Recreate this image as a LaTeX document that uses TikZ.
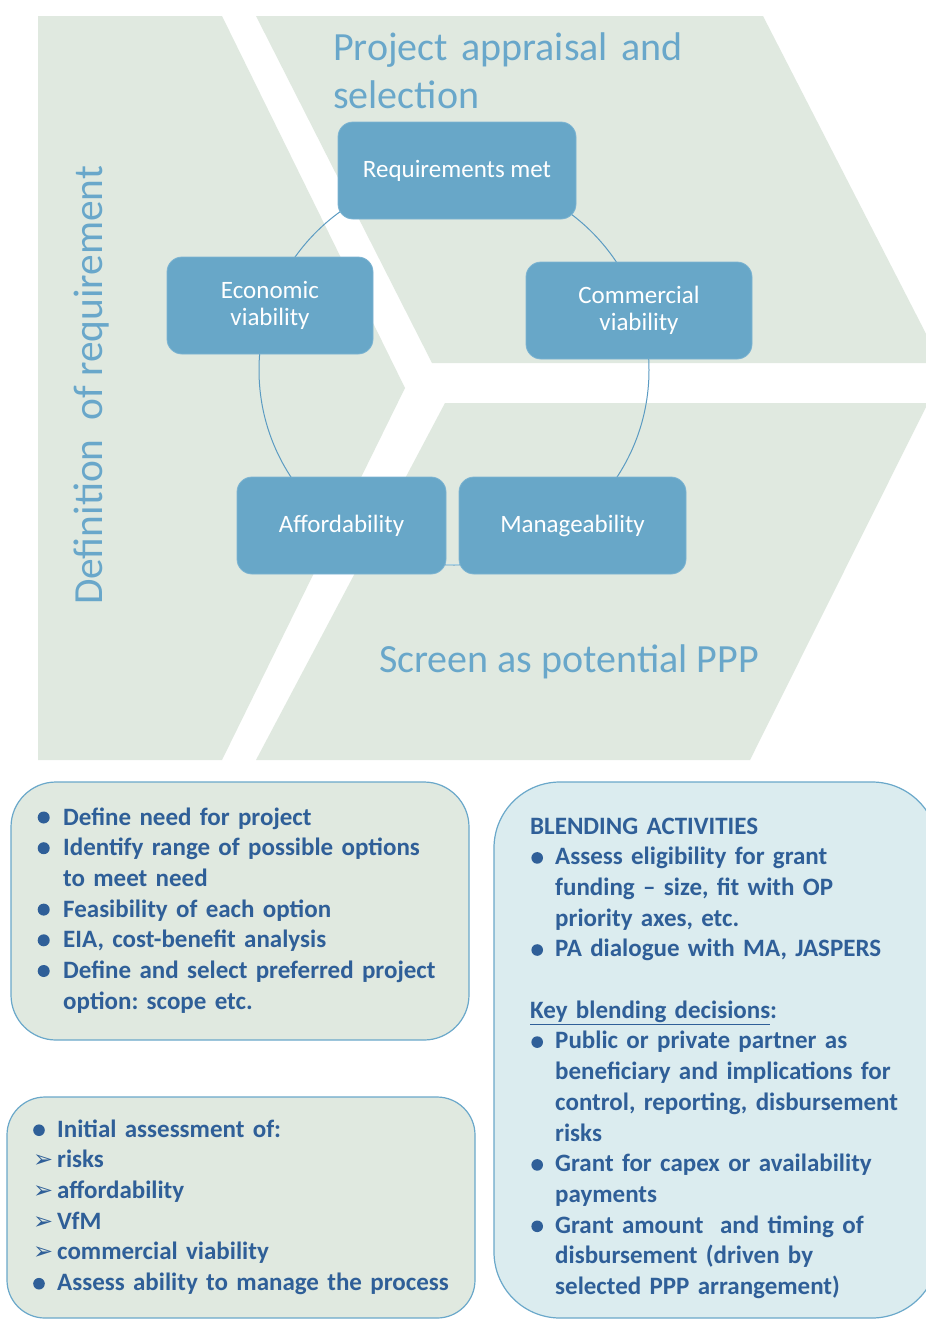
\documentclass[tikz,border=0pt]{standalone}
\usepackage{fontspec}
\setmainfont{Carlito}
\newfontfamily\djv{DejaVu Sans}
\definecolor{bggreen}{HTML}{E0E9E0}
\definecolor{boxblue}{HTML}{DBECEF}
\definecolor{nodeblue}{HTML}{68A7C8}
\definecolor{nodeedge}{HTML}{7DB4D2}
\definecolor{titleblue}{HTML}{69A7CA}
\definecolor{textblue}{HTML}{2F5F98}
\definecolor{linecol}{HTML}{6AA8CA}
\definecolor{ringblue}{HTML}{5B9BC2}
\definecolor{ringlight}{HTML}{A9D0E2}
\newcommand\myitem[2]{\par\noindent\hangindent=#1\hangafter=1\makebox[#1][l]{#2}}
\newcommand\myfirst[2]{\noindent\hangindent=#1\hangafter=1\makebox[#1][l]{#2}}
\newcommand\mydot[3]{\hspace*{#1}\raisebox{#2}{\tikz\fill[textblue] (0pt,0pt) circle (#3);}}
\newcommand\myarrow{{\djv\fontsize{24}{24}\selectfont ➢}}
\tikzset{
  region/.style={fill=bggreen, draw=none},
  cyclenode/.style={rectangle, rounded corners=15pt, fill=nodeblue, draw=nodeedge,
    line width=0.8pt, text=white, font=\fontsize{25}{27.5}\selectfont, align=center,
    minimum height=97pt, inner sep=0pt},
  headtext/.style={text=titleblue, font=\fontsize{40}{48}\selectfont, inner sep=0pt},
  ring/.style={draw=ringblue, line width=1pt},
  greenbox/.style={draw=linecol, line width=1.2pt, fill=bggreen},
  bluebox/.style={draw=linecol, line width=1.2pt, fill=boxblue},
  listtext/.style={text=textblue, font=\bfseries\fontsize{25}{30.7}\selectfont\frenchspacing,
    inner sep=0pt, anchor=base west, text width=500pt, align=left},
}
\begin{document}
\begin{tikzpicture}[x=1pt, y=-1pt]
\useasboundingbox (0,0) rectangle (926,1320);
\begin{scope}
\clip (0,0) rectangle (926,1320);
\fill[white] (0,0) rectangle (926,1320);
% background regions
\fill[region] (38,16) -- (222,16) -- (405,388) -- (222,760) -- (38,760) -- cycle;
\fill[region] (256,16) -- (763,16) -- (941,363) -- (432,363) -- cycle;
\fill[region] (445,403) -- (928,403) -- (750,760) -- (256,760) -- cycle;
% headings
\node[headtext, anchor=base west, align=left, text width=420pt] (appr) at (333,60) {Project appraisal and\\selection};
\node[headtext, anchor=base west] (screen) at (379,672) {Screen as potential PPP};
\node[headtext, font=\fontsize{41.4}{48}\selectfont, anchor=base west, rotate=90] (defreq) at (102,605) {Definition\ \ of requirement};
% cycle ring
\coordinate (cc) at (454,370);
\coordinate (cb) at (454,564);
\draw[ring] (cc) circle[radius=195];
% cycle nodes
\node[cyclenode, minimum width=238pt] (req) at (457,170.5) {Requirements met};
\node[cyclenode, minimum width=206pt] (eco) at (270,305.5) {Economic\\viability};
\node[cyclenode, minimum width=226pt] (com) at (639,310.5) {Commercial\\viability};
\node[cyclenode, minimum width=209pt] (aff) at (341.5,525.5) {Affordability};
\node[cyclenode, minimum width=227pt] (man) at (572.5,525.5) {Manageability};
\draw[draw=ringlight, line width=1pt] (aff.east |- cb) -- (man.west |- cb);
% lower boxes
\draw[greenbox, rounded corners=45pt] (11,782) rectangle (469,1040);
\draw[bluebox, rounded corners=66pt] (494,782) rectangle (938,1318);
\draw[greenbox, rounded corners=38pt] (7,1097) rectangle (475,1318);
% box texts
\node[listtext] (list1) at (37,825) {%
\myfirst{26pt}{\mydot{0.5pt}{1.5pt}{6pt}}Define need for project
\myitem{26pt}{\mydot{0.5pt}{1.5pt}{6pt}}Identify range of possible options\newline to meet need
\myitem{26pt}{\mydot{0.5pt}{1.5pt}{6pt}}Feasibility of each option
\myitem{26pt}{\mydot{0.5pt}{1.5pt}{6pt}}EIA, cost-benefit analysis
\myitem{26pt}{\mydot{0.5pt}{1.5pt}{6pt}}Define and select preferred project\newline option: scope etc.\par};
\node[listtext] (list2) at (530,834) {%
\noindent BLENDING ACTIVITIES
\myitem{25pt}{\mydot{1.2pt}{1pt}{5.8pt}}Assess eligibility for grant\newline funding – size, fit with OP\newline priority axes, etc.
\myitem{25pt}{\mydot{1.2pt}{1pt}{5.8pt}}PA dialogue with MA, JASPERS\par
\vspace{30.7pt}
\noindent\underline{Key blending decisions}:
\myitem{25pt}{\mydot{1.2pt}{1pt}{5.8pt}}Public or private partner as\newline beneficiary and implications for\newline control, reporting, disbursement\newline risks
\myitem{25pt}{\mydot{1.2pt}{1pt}{5.8pt}}Grant for capex or availability\newline payments
\myitem{25pt}{\mydot{1.2pt}{1pt}{5.8pt}}Grant amount\ \ and timing of\newline disbursement (driven by\newline selected PPP arrangement)\par};
\node[listtext] (list3) at (33,1137) {%
\myfirst{24pt}{\mydot{0pt}{1pt}{5.8pt}}Initial assessment of:
\myitem{24pt}{\myarrow}risks
\myitem{24pt}{\myarrow}affordability
\myitem{24pt}{\myarrow}VfM
\myitem{24pt}{\myarrow}commercial viability
\myitem{24pt}{\mydot{0pt}{1pt}{5.8pt}}Assess ability to manage the process\par};
\end{scope}
\end{tikzpicture}
\end{document}
